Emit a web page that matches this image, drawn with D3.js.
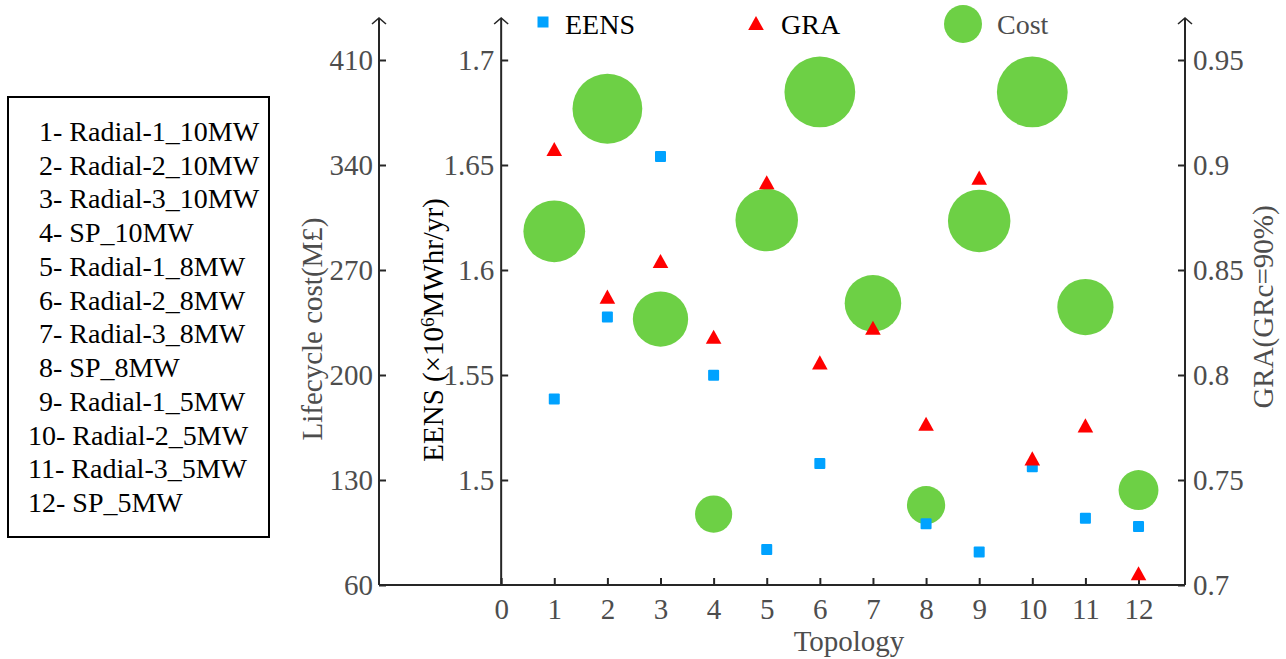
<!DOCTYPE html>
<html>
<head>
<meta charset="utf-8">
<script src="https://cdn.jsdelivr.net/npm/d3@7"></script>
<style>
  body { margin: 0; background: #fff; }
  text { font-family: "Liberation Serif", "Times New Roman", serif; }
</style>
</head>
<body>
<script>
// data
const topology = [1, 2, 3, 4, 5, 6, 7, 8, 9, 10, 11, 12];
const eens = [1.5386, 1.5776, 1.6540, 1.5499, 1.4669, 1.5078, null, 1.4792, 1.4657, 1.5063, 1.4818, 1.4778]; // topology 7 not visible
const gra = [0.9076, 0.8373, 0.8543, 0.8182, 0.8918, 0.8060, 0.8225, 0.7768, 0.8940, 0.7603, 0.7760, 0.7056];
const cost = [295.8, 377.5, 237.3, 107.3, 303.3, 388.7, 247.8, 113.3, 302.7, 388.7, 245.3, 123.3];
const topologyNames = ["Radial-1_10MW", "Radial-2_10MW", "Radial-3_10MW", "SP_10MW",
  "Radial-1_8MW", "Radial-2_8MW", "Radial-3_8MW", "SP_8MW",
  "Radial-1_5MW", "Radial-2_5MW", "Radial-3_5MW", "SP_5MW"];
const xTicks = d3.range(0, 13);
const costTicks = [60, 130, 200, 270, 340, 410];
const eensTicks = [1.5, 1.55, 1.6, 1.65, 1.7];
const graTicks = [0.7, 0.75, 0.8, 0.85, 0.9, 0.95];

const W = 1286, H = 659;
const plot = { left: 379, right: 1185, top: 60, bottom: 585, arrowTop: 18 };
const FS = 29;      // axis text
const KEY_FS = 28;  // legend text
const axisColor = "#262626";
const labelGrey = "#4d4d4d";

const svg = d3.select("body").append("svg")
    .attr("width", W)
    .attr("height", H);

const x = d3.scaleLinear().domain([-2.3, 12.875]).range([plot.left, plot.right]);
const yCost = d3.scaleLinear().domain([60, 410]).range([plot.bottom, plot.top]);
const yEens = d3.scaleLinear().domain([1.45, 1.7]).range([plot.bottom, plot.top]);
const yGra = d3.scaleLinear().domain([0.7, 0.95]).range([plot.bottom, plot.top]);
const rCost = d3.scaleSqrt().domain([0, 388.7]).range([0, 35.4]);

function styleAxis(g, color) {
    g.select(".domain").remove();
    g.selectAll(".tick line").attr("stroke", axisColor).attr("stroke-width", 2);
    g.selectAll(".tick text")
        .attr("fill", color)
        .style("font-size", FS + "px")
        .style("font-family", "'Liberation Serif', 'Times New Roman', serif");
}

// axes
svg.append("g")
    .attr("transform", `translate(${plot.left},0)`)
    .call(d3.axisLeft(yCost).tickValues(costTicks).tickSize(-7).tickPadding(6))
    .call(g => styleAxis(g, labelGrey));

svg.append("g")
    .attr("transform", `translate(${x(0)},0)`)
    .call(d3.axisLeft(yEens).tickValues(eensTicks).tickSize(-7).tickPadding(7).tickFormat(d3.format("")))
    .call(g => styleAxis(g, labelGrey));

svg.append("g")
    .attr("transform", `translate(${plot.right},0)`)
    .call(d3.axisRight(yGra).tickValues(graTicks).tickSize(-7).tickPadding(8).tickFormat(d3.format("")))
    .call(g => styleAxis(g, labelGrey));

svg.append("g")
    .attr("transform", `translate(0,${plot.bottom})`)
    .call(d3.axisBottom(x).tickValues(xTicks).tickSize(-7).tickPadding(13))
    .call(g => styleAxis(g, labelGrey));

// axis lines with open arrow heads
const axisLines = svg.append("g")
    .attr("fill", "none")
    .attr("stroke", axisColor)
    .attr("stroke-width", 2);

axisLines.append("line")
    .attr("x1", plot.left).attr("x2", plot.right)
    .attr("y1", plot.bottom).attr("y2", plot.bottom);

[plot.left, x(0), plot.right].forEach(ax => {
    axisLines.append("line")
        .attr("x1", ax).attr("x2", ax)
        .attr("y1", plot.bottom).attr("y2", plot.arrowTop);
    axisLines.append("path")
        .attr("stroke-width", 1.6)
        .attr("d", `M${ax - 7},${plot.arrowTop + 6}L${ax},${plot.arrowTop}L${ax + 7},${plot.arrowTop + 6}`);
});

// axis titles (rotated, baseline given as x)
svg.append("text")
    .attr("transform", `translate(322,329) rotate(-90)`)
    .attr("text-anchor", "middle")
    .attr("fill", labelGrey)
    .style("font-size", FS + "px")
    .text("Lifecycle cost(M£)");

const eensTitle = svg.append("text")
    .attr("transform", `translate(443,330) rotate(-90)`)
    .attr("text-anchor", "middle")
    .attr("fill", "#000")
    .style("font-size", FS + "px");
eensTitle.append("tspan").text("EENS (×10");
eensTitle.append("tspan").attr("dy", "-0.45em").style("font-size", "19px").text("6");
eensTitle.append("tspan").attr("dy", "0.3em").text("MWhr/yr)");

svg.append("text")
    .attr("transform", `translate(1273,307) rotate(-90)`)
    .attr("text-anchor", "middle")
    .attr("fill", labelGrey)
    .style("font-size", FS + "px")
    .text("GRA(GRc=90%)");

svg.append("text")
    .attr("x", 849)
    .attr("y", 651)
    .attr("text-anchor", "middle")
    .attr("fill", labelGrey)
    .style("font-size", FS + "px")
    .text("Topology");

// markers
const green = "#6dd045", blue = "#00a2ff", red = "#ff0000";
const tri = s => `M0,${-s * 0.47}L${s * 0.52},${s * 0.47}L${-s * 0.52},${s * 0.47}Z`;

svg.append("g").selectAll("circle")
    .data(topology)
    .join("circle")
    .attr("cx", (d, i) => x(d))
    .attr("cy", (d, i) => yCost(cost[i]))
    .attr("r", (d, i) => rCost(cost[i]))
    .attr("fill", green);

svg.append("g").selectAll("rect")
    .data(topology.filter((d, i) => eens[i] != null))
    .join("rect")
    .attr("x", d => x(d) - 5.5)
    .attr("y", d => yEens(eens[d - 1]) - 5.5)
    .attr("width", 11)
    .attr("height", 11)
    .attr("rx", 1)
    .attr("fill", blue);

svg.append("g").selectAll("path")
    .data(topology)
    .join("path")
    .attr("transform", (d, i) => `translate(${x(d)},${yGra(gra[i])})`)
    .attr("d", tri(15))
    .attr("fill", red);

// top legend
const legend = svg.append("g");
legend.append("rect").attr("x", 537.5).attr("y", 16.5).attr("width", 11).attr("height", 11).attr("fill", blue);
legend.append("text").attr("x", 565).attr("y", 34).style("font-size", KEY_FS + "px").attr("fill", "#000").text("EENS");
legend.append("path").attr("transform", "translate(756,23)").attr("d", tri(15)).attr("fill", red);
legend.append("text").attr("x", 781).attr("y", 34).style("font-size", KEY_FS + "px").attr("fill", "#000").text("GRA");
legend.append("circle").attr("cx", 963).attr("cy", 24).attr("r", 19).attr("fill", green);
legend.append("text").attr("x", 997).attr("y", 34).style("font-size", KEY_FS + "px").attr("fill", labelGrey).text("Cost");

// topology key box
const keyBox = svg.append("g");
keyBox.append("rect")
    .attr("x", 8).attr("y", 97)
    .attr("width", 261).attr("height", 440)
    .attr("fill", "#fff")
    .attr("stroke", "#000")
    .attr("stroke-width", 2);

const keyY = d3.scalePoint().domain(topology).range([141, 512]);
keyBox.selectAll("text")
    .data(topology)
    .join("text")
    .attr("x", d => d >= 10 ? 28 : 39)
    .attr("y", d => keyY(d))
    .attr("fill", "#000")
    .style("font-size", KEY_FS + "px")
    .text((d, i) => `${d}- ${topologyNames[i]}`);
</script>
</body>
</html>
